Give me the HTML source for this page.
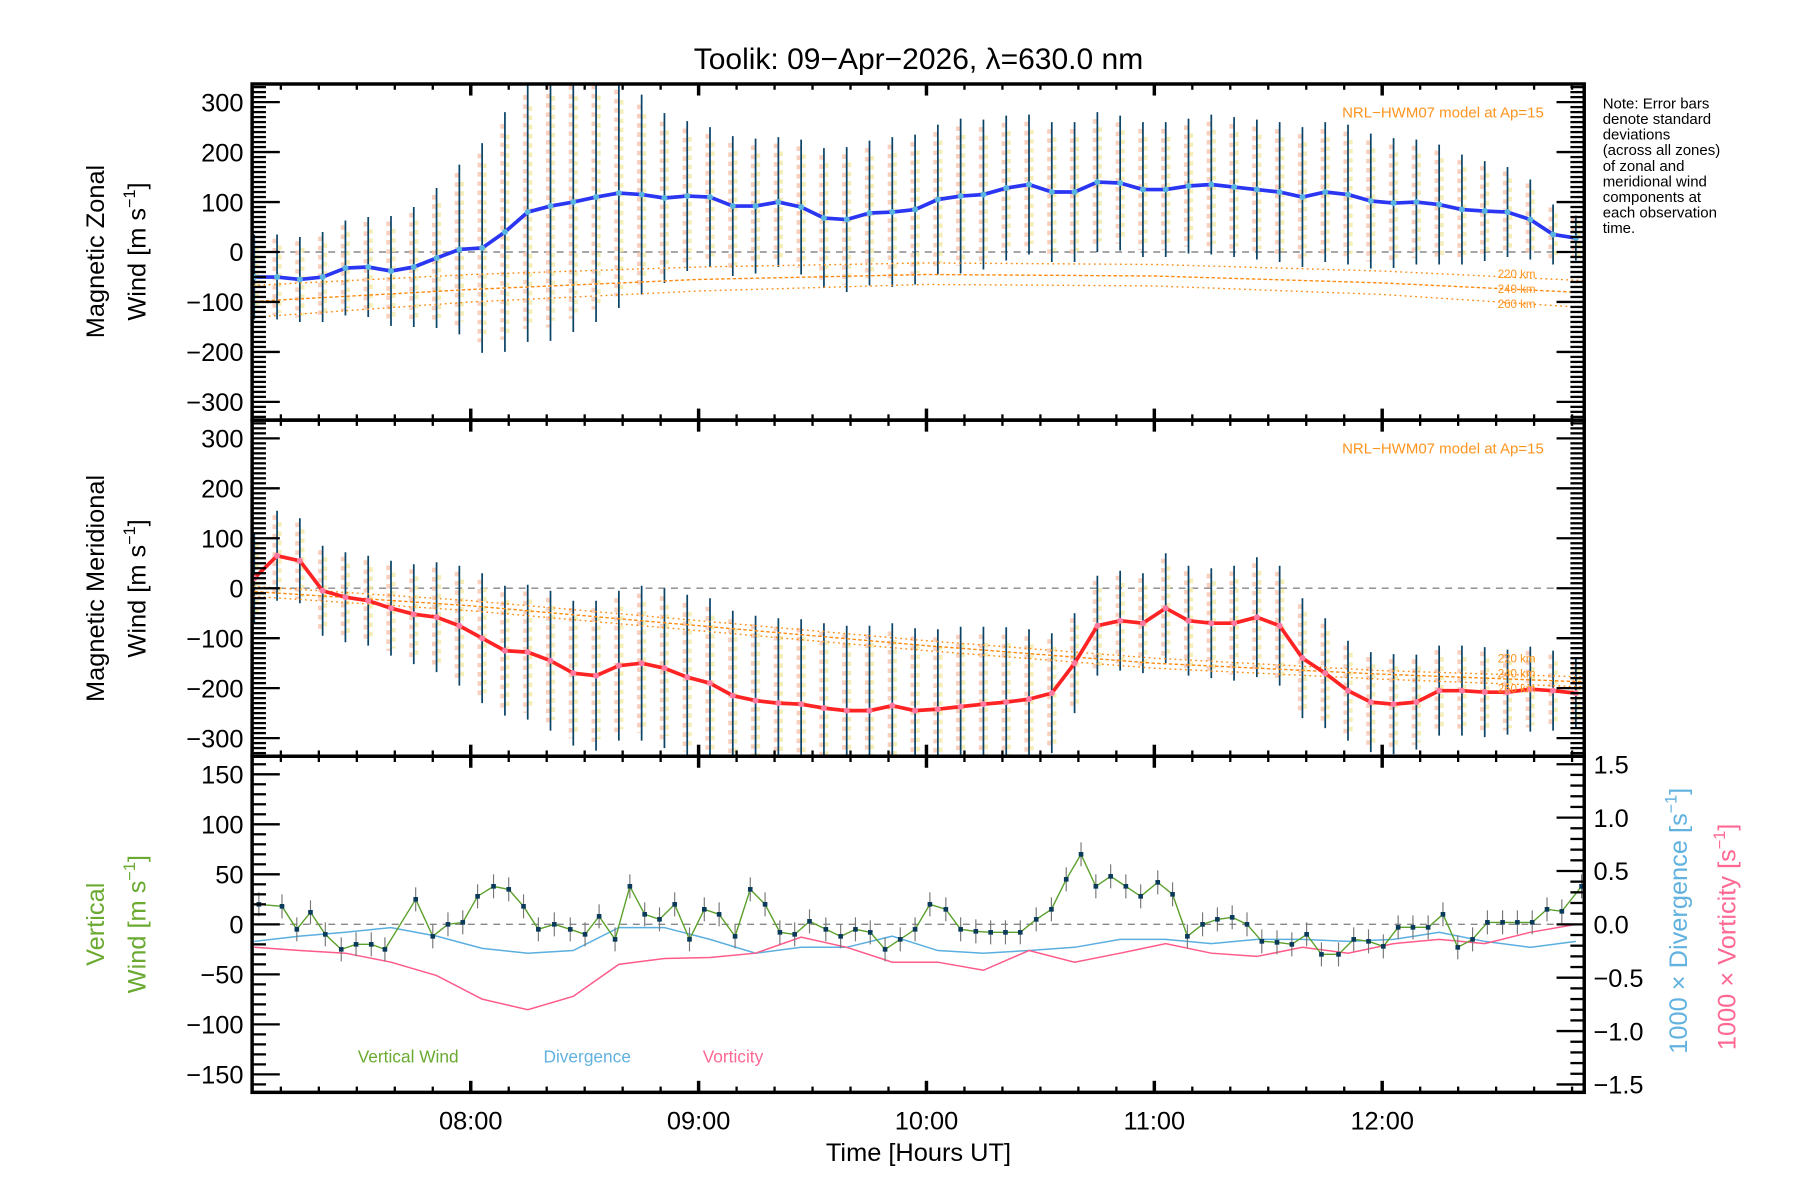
<!DOCTYPE html>
<html><head><meta charset="utf-8"><style>
html,body{margin:0;padding:0;background:#fff}
svg{display:block;font-family:"Liberation Sans",sans-serif}
</style></head><body>
<svg id="chart" width="1800" height="1200" viewBox="0 0 1560 1040" xmlns="http://www.w3.org/2000/svg">
<defs>
<clipPath id="c1"><rect x="218.5" y="72.8" width="1154.5" height="291.3"/></clipPath>
<clipPath id="c2"><rect x="218.5" y="364.1" width="1154.5" height="291.3"/></clipPath>
<clipPath id="c3"><rect x="218.5" y="655.4" width="1154.5" height="291.3"/></clipPath>
</defs>
<text x="796" y="60" font-size="26" text-anchor="middle">Toolik: 09−Apr−2026, λ=630.0 nm</text>
<g id="g1" clip-path="url(#c1)"></g>
<g id="g2" clip-path="url(#c2)"></g>
<g id="g3" clip-path="url(#c3)"></g>
<g id="axes"></g>
<g font-size="22">
<text transform="translate(90,218) rotate(-90)" text-anchor="middle">Magnetic Zonal</text>
<text transform="translate(126,218) rotate(-90)" text-anchor="middle">Wind [m s<tspan dy="-9" font-size="14">−1</tspan><tspan dy="9">]</tspan></text>
<text transform="translate(90,510) rotate(-90)" text-anchor="middle">Magnetic Meridional</text>
<text transform="translate(126,510) rotate(-90)" text-anchor="middle">Wind [m s<tspan dy="-9" font-size="14">−1</tspan><tspan dy="9">]</tspan></text>
<text transform="translate(90,801) rotate(-90)" text-anchor="middle" fill="#6aaa30">Vertical</text>
<text transform="translate(126,801) rotate(-90)" text-anchor="middle" fill="#6aaa30">Wind [m s<tspan dy="-9" font-size="14">−1</tspan><tspan dy="9">]</tspan></text>
<text transform="translate(1462,798) rotate(-90)" text-anchor="middle" fill="#62b2e0">1000 × Divergence [s<tspan dy="-9" font-size="14">−1</tspan><tspan dy="9">]</tspan></text>
<text transform="translate(1504,812) rotate(-90)" text-anchor="middle" fill="#ff6892">1000 × Vorticity [s<tspan dy="-9" font-size="14">−1</tspan><tspan dy="9">]</tspan></text>
</g>
<text x="796" y="1006" font-size="22" text-anchor="middle">Time [Hours UT]</text>
<g font-size="13">
<text x="1389" y="94">Note: Error bars</text><text x="1389" y="107.5">denote standard</text><text x="1389" y="121">deviations</text><text x="1389" y="134.5">(across all zones)</text><text x="1389" y="148">of zonal and</text><text x="1389" y="161.5">meridional wind</text><text x="1389" y="175">components at</text><text x="1389" y="188.5">each observation</text><text x="1389" y="202">time.</text>
</g>
<g fill="#ff9420">
<text x="1338" y="102" font-size="13" text-anchor="end">NRL−HWM07 model at Ap=15</text>
<text x="1338" y="393" font-size="13" text-anchor="end">NRL−HWM07 model at Ap=15</text>
<g font-size="10"><text x="1298" y="241">220 km</text><text x="1298" y="254">240 km</text><text x="1298" y="267">260 km</text>
<text x="1298" y="574">220 km</text><text x="1298" y="587">240 km</text><text x="1298" y="600">260 km</text></g>
</g>
<g font-size="15">
<text x="310" y="921" fill="#6aaa30">Vertical Wind</text>
<text x="471" y="921" fill="#62b2e0">Divergence</text>
<text x="609" y="921" fill="#ff6892">Vorticity</text>
</g>
</svg>
<script>
// times in minutes after 07:00 UT
const windTimes = [3,9,15,21,27,33,39,45,51,57,63,69,75,81,87,93,99,105,111,117,123,129,135,141,147,153,159,165,171,177,183,189,195,201,207,213,219,225,231,237,243,249,255,261,267,273,279,285,291,297,303,309,315,321,327,333,339,345,351];
const zonal = [-50,-50,-55,-50,-32,-30,-38,-30,-12,5,8,40,80,92,100,110,118,115,108,112,110,92,92,100,90,68,65,78,80,85,105,112,115,128,135,120,120,140,138,125,125,132,135,130,125,120,110,120,115,102,98,100,95,85,82,80,65,35,28];
const zonalErr = [85,85,85,90,95,100,110,120,140,170,210,240,260,270,260,250,230,200,170,150,140,140,135,130,135,140,145,145,150,150,150,155,150,145,140,140,140,140,135,135,135,135,140,140,140,140,140,140,140,135,130,125,120,110,100,90,80,60,45];
const meridional = [20,65,55,-5,-18,-25,-40,-52,-58,-75,-100,-125,-128,-145,-170,-175,-155,-150,-160,-178,-190,-215,-225,-230,-232,-240,-245,-245,-235,-245,-242,-237,-232,-228,-222,-210,-150,-75,-65,-70,-40,-65,-70,-70,-58,-75,-140,-170,-205,-228,-232,-228,-205,-205,-208,-208,-202,-205,-210];
const meridErr = [90,90,85,90,90,90,95,100,110,120,130,130,135,140,145,150,150,155,160,165,170,170,170,170,170,170,170,170,165,165,160,160,155,150,140,120,100,100,100,100,110,110,110,115,120,120,120,110,100,100,100,95,90,90,90,85,85,80,70];
const modelTimes = [0,60,120,180,240,300,355];
const zonal220 = [-68,-45,-30,-22,-25,-38,-58];
const zonal240 = [-100,-75,-55,-45,-48,-62,-82];
const zonal260 = [-132,-100,-78,-65,-68,-85,-112];
const merid220 = [5,-25,-65,-105,-140,-165,-178];
const merid240 = [-5,-35,-75,-115,-150,-172,-188];
const merid260 = [-15,-45,-85,-125,-160,-182,-198];
const vertTimes = [4.2,10.3,14.2,17.8,21.7,25.9,29.8,33.8,37.4,45.5,50,54,57.9,61.8,66,70,73.9,77.8,82,86.2,90.1,93.8,98,101.9,105.8,109.7,113.7,117.6,121.5,125.4,129.6,133.6,137.5,141.4,145.3,149.2,153.5,157.4,161.3,165.2,169.1,173.1,177,180.9,185.1,189,193,196.9,200.8,204.7,208.9,212.9,216.8,220.7,224.6,228.5,232.5,236.4,240.9,244.8,248.7,252.7,256.6,260.5,264.4,268.3,272.3,276.2,280.1,284,288.5,292.5,296.4,300.3,304.2,308.1,312.1,316,319.9,323.8,327.7,331.7,335.6,339.5,343.4,347.3,352.5];
const vertical = [20,18,-5,12,-10,-25,-20,-20,-25,25,-12,0,2,28,38,35,18,-5,0,-5,-10,8,-15,38,10,5,20,-15,15,10,-12,35,20,-8,-10,3,-5,-12,-5,-8,-25,-15,-5,20,15,-5,-7,-8,-8,-8,5,15,45,70,38,48,38,28,42,30,-12,0,5,7,0,-17,-18,-20,-10,-30,-30,-15,-17,-22,-3,-3,-3,10,-23,-15,2,2,2,2,15,13,38];
const divTimes = [3,15,27,39,51,63,75,87,99,111,123,135,147,159,171,183,195,207,219,231,243,255,267,279,291,303,315,327,339,351];
const divergence = [-0.16,-0.11,-0.075,-0.03,-0.11,-0.225,-0.27,-0.245,-0.03,-0.03,-0.14,-0.27,-0.215,-0.215,-0.11,-0.245,-0.27,-0.245,-0.215,-0.14,-0.14,-0.18,-0.14,-0.14,-0.16,-0.14,-0.075,-0.16,-0.215,-0.16];
const vorticity = [-0.215,-0.245,-0.27,-0.355,-0.48,-0.7,-0.8,-0.675,-0.375,-0.32,-0.31,-0.27,-0.12,-0.215,-0.355,-0.355,-0.43,-0.245,-0.355,-0.27,-0.18,-0.27,-0.3,-0.215,-0.27,-0.18,-0.14,-0.18,-0.075,0];
const hourLabels = ["08:00","09:00","10:00","11:00","12:00"];
const zTicks = [300,200,100,0,-100,-200,-300];
const vTicks = [150,100,50,0,-50,-100,-150];
const rTicks = [1.5,1.0,0.5,0.0,-0.5,-1.0,-1.5];

const NS="http://www.w3.org/2000/svg";
const X0=218.5,X1=1373,M0=2.43,M1=353.2;
const xS=m=>X0+(m-M0)*(X1-X0)/(M1-M0);
const yZ=v=>218.4-v*0.433, yM=v=>509.8-v*0.433, yV=v=>801.1-v*0.867, yR=v=>801.1-v*92.5;
function mk(tag,attrs,parent){const e=document.createElementNS(NS,tag);for(const k in attrs)e.setAttribute(k,attrs[k]);parent.appendChild(e);return e;}
const g1=document.getElementById('g1'),g2=document.getElementById('g2'),g3=document.getElementById('g3'),ax=document.getElementById('axes');
function poly(ts,vs,ys,attrs,parent,name){const p=mk('polyline',Object.assign({points:ts.map((t,i)=>xS(t).toFixed(1)+','+ys(vs[i]).toFixed(1)).join(' '),fill:'none'},attrs),parent);

return p;}
function zero(ys,parent){const l=mk('line',{x1:X0,x2:X1,y1:ys(0),y2:ys(0),stroke:'#888','stroke-width':1.2,'stroke-dasharray':'6,5'},parent);

}
function windPanel(g,vals,errs,ys,models,lineColor,dotColor,name){
  zero(ys,g);
  windTimes.forEach((t,i)=>{const x=xS(t);const v=vals[i],e=errs[i];
    const s1=mk('line',{x1:x-2,x2:x-2,y1:ys(v+e*0.9),y2:ys(v-e*0.9),stroke:'#f8c4ae','stroke-width':4,'stroke-dasharray':'4,4',opacity:0.8},g);
    
    
    const s2=mk('line',{x1:x+2,x2:x+2,y1:ys(v+e*0.85),y2:ys(v-e*0.85),stroke:'#f3eaa8','stroke-width':4,'stroke-dasharray':'4,4','stroke-dashoffset':4,opacity:0.8},g);
    
    
    const b=mk('line',{x1:x,x2:x,y1:ys(v+e),y2:ys(v-e),stroke:'#0c4468','stroke-width':1.5},g);
    
    
  });
  models.forEach((m,k)=>poly(modelTimes,m,ys,{stroke:'#ff8a10','stroke-width':1.2,'stroke-dasharray':k==1?'3,2':'1.5,3'},g,'model-line'));
  poly(windTimes,vals,ys,{stroke:lineColor,'stroke-width':3.2,'stroke-linejoin':'round'},g,name);
  windTimes.forEach((t,i)=>{const c=mk('circle',{cx:xS(t),cy:ys(vals[i]),r:2.6,fill:dotColor},g);
    
    });
}
windPanel(g1,zonal,zonalErr,yZ,[zonal220,zonal240,zonal260],'#2a36f2','#5ab4e0','zonal-wind-line');
windPanel(g2,meridional,meridErr,yM,[merid220,merid240,merid260],'#ff2424','#ff7aa0','meridional-wind-line');
// panel 3
zero(yV,g3);
poly(divTimes,divergence,yR,{stroke:'#5aaee0','stroke-width':1.3},g3,'divergence-line');
poly(divTimes,vorticity,yR,{stroke:'#ff5a8a','stroke-width':1.3},g3,'vorticity-line');
vertTimes.forEach((t,i)=>{const b=mk('line',{x1:xS(t),x2:xS(t),y1:yV(vertical[i]+12),y2:yV(vertical[i]-12),stroke:'#777','stroke-width':1},g3);
  
  });
poly(vertTimes,vertical,yV,{stroke:'#5aa02a','stroke-width':1.2},g3,'vertical-wind-line');
vertTimes.forEach((t,i)=>{const r=mk('rect',{x:xS(t)-2,y:yV(vertical[i])-2,width:4,height:4,fill:'#0a3a5a'},g3);
  
  });
// axes
const tops=[72.8,364.1,655.4],bots=[364.1,655.4,946.7];
function L(x1,y1,x2,y2,w){const l=mk('line',{x1,y1,x2,y2,stroke:'#000','stroke-width':w},ax);
  
  }
for(let p=0;p<3;p++){
  const fr=mk('rect',{x:X0,y:tops[p],width:X1-X0,height:bots[p]-tops[p],fill:'none',stroke:'#000','stroke-width':3},ax);
  
  
  for(let m=10;m<M1;m+=10){if(m<M0)continue;const x=xS(m);const major=m%60==0;const len=major?10:5;
    L(x,tops[p],x,tops[p]+len,major?3:2);L(x,bots[p],x,bots[p]-len,major?3:2);}
}
function yAxis(ys,minV,maxV,minorStep,majorStep,labels,side,fmt,top,bot){
  for(let v=minV;v<=maxV+1e-9;v+=minorStep){const vv=Math.round(v*1000)/1000;const y=ys(vv);
    if(y<top+1||y>bot-1)continue;
    const major=Math.abs(vv/majorStep-Math.round(vv/majorStep))<1e-6;const len=major?24:12;
    if(side!=='right'){L(X0,y,X0+len,y,2);} if(side!=='left'){L(X1,y,X1-len,y,2);}
  }
  labels.forEach(v=>{const t=mk('text',{x:side==='right'?1381:211,y:ys(v)+8,'font-size':22,'text-anchor':side==='right'?'start':'end'},ax);
    
    
    t.textContent=fmt(v);});
}
const f0=v=>(v<0?'−':'')+Math.abs(v);
yAxis(yZ,-340,340,10,100,zTicks,'both',f0,tops[0],bots[0]);
yAxis(yM,-340,340,10,100,zTicks,'both',f0,tops[1],bots[1]);
yAxis(yV,-170,170,10,50,vTicks,'left',f0,tops[2],bots[2]);
yAxis(yR,-1.6,1.6,0.1,0.5,rTicks,'right',v=>(v<0?'−':'')+Math.abs(v).toFixed(1),tops[2],bots[2]);
hourLabels.forEach((h,i)=>{const t=mk('text',{x:xS(60*(i+1)),y:979,'font-size':22,'text-anchor':'middle'},ax);
  
  
  t.textContent=h;});
</script>
</body></html>
